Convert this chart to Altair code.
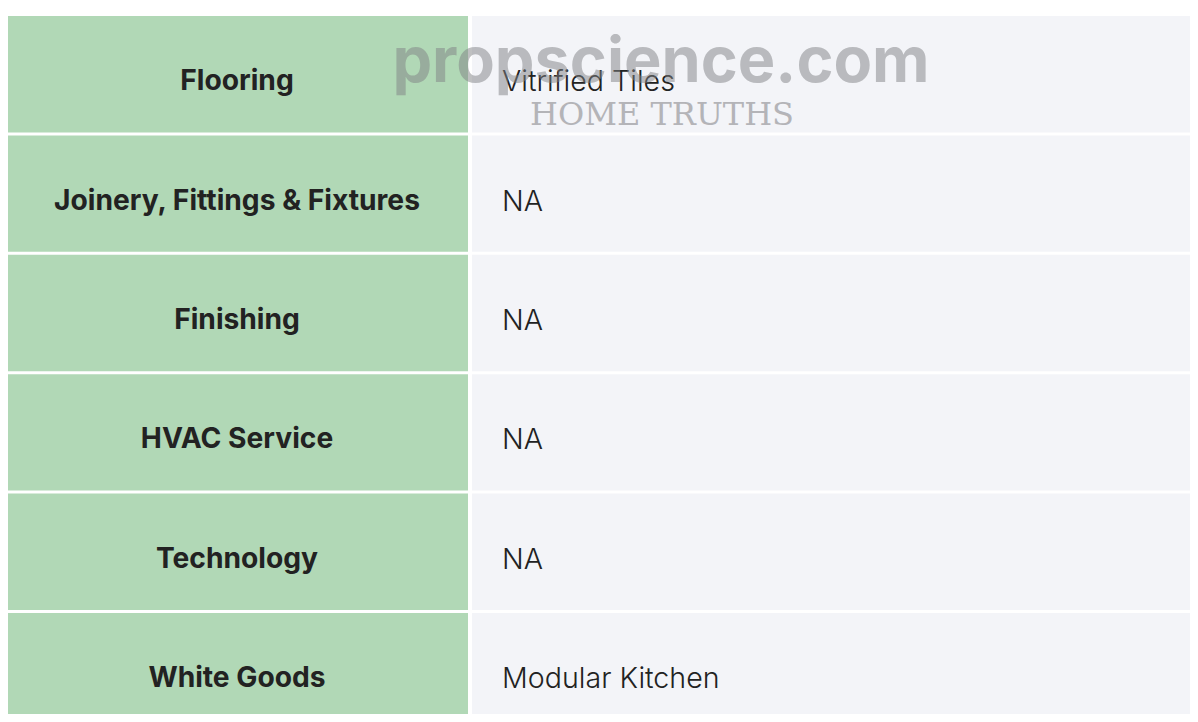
import altair as alt
import pandas as pd

labels = ["Flooring", "Joinery, Fittings & Fixtures", "Finishing", "HVAC Service", "Technology", "White Goods"]
values = ["Vitrified Tiles", "NA", "NA", "NA", "NA", "Modular Kitchen"]
watermark_main = ["propscience.com"]
watermark_sub = ["HOME TRUTHS"]

df = pd.DataFrame({"row": labels, "label": labels, "value": values})

W, H = 1182, 706
yscale = alt.Scale(domain=labels, range=[8, 721.4], paddingInner=3 / 119.4,
                   paddingOuter=0, round=False)
Y = alt.Y("row:N", scale=yscale, axis=None)

base = alt.Chart(df)

green = base.mark_rect(color="#b1d8b6").encode(y=Y, x=alt.value(0), x2=alt.value(460))
grey = base.mark_rect(color="#f3f4f8").encode(y=Y, x=alt.value(464), x2=alt.value(W))

lab = base.mark_text(font="Inter", fontWeight="bold", fontSize=28.2,
                     color="#222222", align="center", baseline="middle", dy=8).encode(
    y=Y, x=alt.value(229), text="label:N")
val = base.mark_text(font="Inter", fontWeight=300, fontSize=28.6,
                     color="#222222", align="left", baseline="middle", dy=8).encode(
    y=Y, x=alt.value(494), text="value:N")

wm1 = alt.Chart(pd.DataFrame({"t": watermark_main})).mark_text(
    font="Inter", fontWeight="bold", fontSize=63, color="#808285",
    opacity=0.5, align="center", baseline="alphabetic").encode(
    x=alt.value(653), y=alt.value(74), text="t:N")
wm2 = alt.Chart(pd.DataFrame({"t": watermark_sub})).mark_text(
    font="DejaVu Serif", fontSize=32, color="#9a9a9e",
    opacity=0.7, align="center", baseline="alphabetic").encode(
    x=alt.value(654), y=alt.value(117), text="t:N")

chart = alt.layer(green, grey, lab, val, wm1, wm2).properties(
    width=W, height=H, padding=0, background="#ffffff",
    autosize=alt.AutoSizeParams(type="none")
).configure_view(stroke=None)

chart.save("out.html", embed_options={"renderer": "svg", "actions": False})
